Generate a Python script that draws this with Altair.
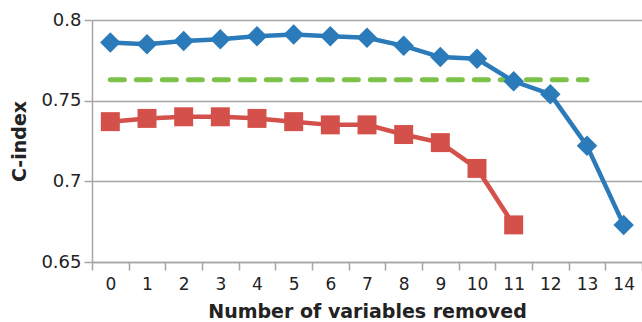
import altair as alt
import pandas as pd

# Number of variables removed
steps = list(range(15))

# C-index for the two selection strategies
blue_cindex = [0.786, 0.785, 0.787, 0.788, 0.790, 0.791, 0.790, 0.789, 0.784,
               0.777, 0.776, 0.762, 0.754, 0.722, 0.673]
red_cindex = [0.737, 0.739, 0.740, 0.740, 0.739, 0.737, 0.735, 0.735, 0.729,
              0.724, 0.708, 0.673]

# Reference level drawn as a dashed line
ref_value = [0.763]
ref_start = [0]
ref_end = [13]

blue_df = pd.DataFrame({"step": steps, "cindex": blue_cindex})
red_df = pd.DataFrame({"step": steps[:len(red_cindex)], "cindex": red_cindex})
ref_df = pd.DataFrame({"step": ref_start, "step_end": ref_end, "cindex": ref_value})

FONT = "DejaVu Sans"
BLUE = "#2b7bba"
RED = "#d4504a"
GREEN = "#7cc14a"
GRID = "#a6a6a6"
TEXT = "#222222"

tick_vals = [v - 0.5 for v in range(16)]

x_scale = alt.Scale(domain=[-0.5, 14.5], nice=False, zero=False)
y_scale = alt.Scale(domain=[0.65, 0.8], nice=False, zero=False)

x_axis = alt.Axis(
    title="Number of variables removed",
    values=tick_vals,
    labelExpr="datum.value < 14 ? format(datum.value + 0.5, 'd') : ''",
    labelOffset=550 / 15 / 2,
    labelOverlap=False,
    labelFlush=False,
    grid=False,
    domainColor=GRID,
    domainWidth=1.5,
    tickColor=GRID,
    tickWidth=1.5,
    tickSize=8,
    labelFont=FONT,
    labelFontSize=17,
    labelColor=TEXT,
    labelPadding=6,
    titleFont=FONT,
    titleFontSize=19,
    titleFontWeight="bold",
    titleColor=TEXT,
    titlePadding=10,
)

y_axis = alt.Axis(
    title="C-index",
    values=[0.65, 0.7, 0.75, 0.8],
    labelExpr="format(datum.value, '~g')",
    labelOverlap=False,
    labelFlush=False,
    grid=True,
    gridColor=GRID,
    gridWidth=1.5,
    domainColor=GRID,
    domainWidth=1.5,
    tickColor=GRID,
    tickWidth=1.5,
    tickSize=8,
    labelFont=FONT,
    labelFontSize=18,
    labelColor=TEXT,
    labelPadding=3,
    titleFont=FONT,
    titleFontSize=19,
    titleFontWeight="bold",
    titleColor=TEXT,
    titlePadding=11,
)

X = alt.X("step:Q", scale=x_scale, axis=x_axis)
Y = alt.Y("cindex:Q", scale=y_scale, axis=y_axis)

blue_line = alt.Chart(blue_df).mark_line(color=BLUE, strokeWidth=4.5).encode(x=X, y=Y)
blue_pts = alt.Chart(blue_df).mark_point(
    shape="diamond", filled=True, size=420, color=BLUE, opacity=1
).encode(x=X, y=Y)

red_line = alt.Chart(red_df).mark_line(color=RED, strokeWidth=4.5).encode(x=X, y=Y)
red_pts = alt.Chart(red_df).mark_point(
    shape="square", filled=True, size=360, color=RED, opacity=1
).encode(x=X, y=Y)

ref_rule = alt.Chart(ref_df).mark_rule(
    color=GREEN, strokeWidth=5, strokeDash=[14, 12], strokeCap="round"
).encode(x=X, x2="step_end:Q", y=Y)

chart = (
    alt.layer(ref_rule, red_line, red_pts, blue_line, blue_pts)
    .properties(
        width=550,
        height=242,
        autosize=alt.AutoSizeParams(type="none"),
        padding={"left": 92, "top": 20, "right": 0, "bottom": 60},
    )
    .configure_view(stroke=None)
    .configure_axis(labelOverlap=False, labelFlush=False)
)

chart.save("out.html", embed_options={"renderer": "svg", "actions": False})
